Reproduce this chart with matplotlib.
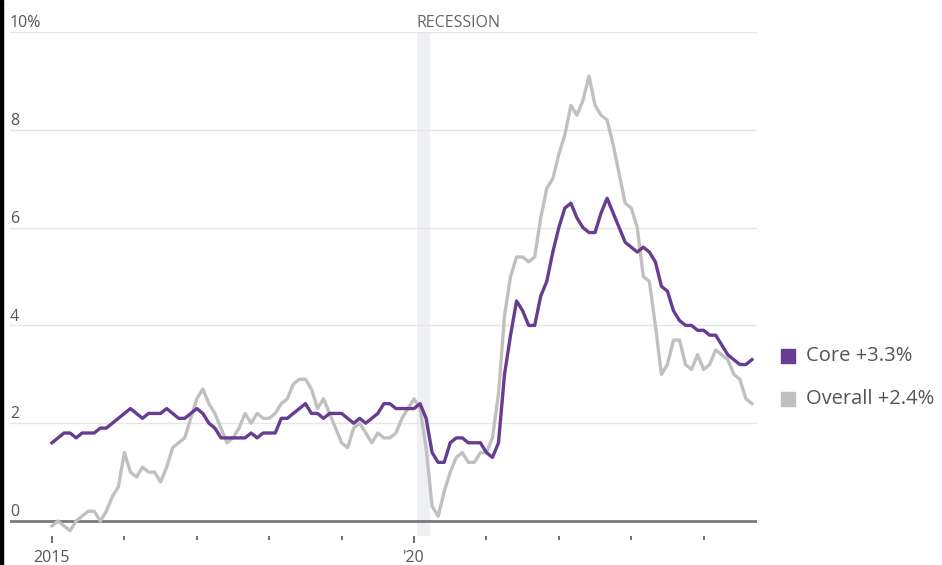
import matplotlib
matplotlib.use("Agg")
import matplotlib.pyplot as plt
import numpy as np
from matplotlib.patches import Rectangle

plt.rcParams['font.family'] = ['Open Sans', 'DejaVu Sans']

start_year = 2015
overall = [
    -0.1, 0.0, -0.1, -0.2, 0.0, 0.1, 0.2, 0.2, 0.0, 0.2, 0.5, 0.7,
    1.4, 1.0, 0.9, 1.1, 1.0, 1.0, 0.8, 1.1, 1.5, 1.6, 1.7, 2.1,
    2.5, 2.7, 2.4, 2.2, 1.9, 1.6, 1.7, 1.9, 2.2, 2.0, 2.2, 2.1,
    2.1, 2.2, 2.4, 2.5, 2.8, 2.9, 2.9, 2.7, 2.3, 2.5, 2.2, 1.9,
    1.6, 1.5, 1.9, 2.0, 1.8, 1.6, 1.8, 1.7, 1.7, 1.8, 2.1, 2.3,
    2.5, 2.3, 1.5, 0.3, 0.1, 0.6, 1.0, 1.3, 1.4, 1.2, 1.2, 1.4,
    1.4, 1.7, 2.6, 4.2, 5.0, 5.4, 5.4, 5.3, 5.4, 6.2, 6.8, 7.0,
    7.5, 7.9, 8.5, 8.3, 8.6, 9.1, 8.5, 8.3, 8.2, 7.7, 7.1, 6.5,
    6.4, 6.0, 5.0, 4.9, 4.0, 3.0, 3.2, 3.7, 3.7, 3.2, 3.1, 3.4,
    3.1, 3.2, 3.5, 3.4, 3.3, 3.0, 2.9, 2.5, 2.4,
]
core = [
    1.6, 1.7, 1.8, 1.8, 1.7, 1.8, 1.8, 1.8, 1.9, 1.9, 2.0, 2.1,
    2.2, 2.3, 2.2, 2.1, 2.2, 2.2, 2.2, 2.3, 2.2, 2.1, 2.1, 2.2,
    2.3, 2.2, 2.0, 1.9, 1.7, 1.7, 1.7, 1.7, 1.7, 1.8, 1.7, 1.8,
    1.8, 1.8, 2.1, 2.1, 2.2, 2.3, 2.4, 2.2, 2.2, 2.1, 2.2, 2.2,
    2.2, 2.1, 2.0, 2.1, 2.0, 2.1, 2.2, 2.4, 2.4, 2.3, 2.3, 2.3,
    2.3, 2.4, 2.1, 1.4, 1.2, 1.2, 1.6, 1.7, 1.7, 1.6, 1.6, 1.6,
    1.4, 1.3, 1.6, 3.0, 3.8, 4.5, 4.3, 4.0, 4.0, 4.6, 4.9, 5.5,
    6.0, 6.4, 6.5, 6.2, 6.0, 5.9, 5.9, 6.3, 6.6, 6.3, 6.0, 5.7,
    5.6, 5.5, 5.6, 5.5, 5.3, 4.8, 4.7, 4.3, 4.1, 4.0, 4.0, 3.9,
    3.9, 3.8, 3.8, 3.6, 3.4, 3.3, 3.2, 3.2, 3.3,
]
year_ticks = list(range(2015, 2025))
year_labels = ['2015', '', '', '', '', "'20", '', '', '', '']
y_ticks = [0, 2, 4, 6, 8, 10]
y_labels = ['0', '2', '4', '6', '8', '10%']
recession = (2020.04, 2020.22)
legend_labels = ['Core +3.3%', 'Overall +2.4%']

core_color = '#663d91'
overall_color = '#c0c0c0'

W, H = 942, 565
fig = plt.figure(figsize=(W / 100, H / 100), dpi=100)
ax_l, ax_r, ax_t, ax_b = 10, 757, 32, 535.7
ax = fig.add_axes([ax_l / W, 1 - ax_b / H, (ax_r - ax_l) / W, (ax_b - ax_t) / H])

t = start_year + np.arange(len(core)) / 12.0
ymin = -0.3
ax.set_xlim(2014.42, 2024.737)
ax.set_ylim(ymin, 10)

for yv in y_ticks[1:]:
    ax.axhline(yv, color='#e6e6e6', lw=1.0, zorder=1)
ax.axhline(0, color='#7a7a7a', lw=2.0, zorder=2)

ax.fill_between(recession, ymin, 10, color='#eef0f4', lw=0, zorder=0.5)
ax.text(recession[0], 10.1, 'RECESSION', fontsize=11.5, color='#666666',
        ha='left', va='baseline')

ax.plot(t, overall, color=overall_color, lw=2.4, zorder=3, solid_joinstyle='round')
ax.plot(t, core, color=core_color, lw=2.4, zorder=4, solid_joinstyle='round')

for yv, lab in zip(y_ticks, y_labels):
    ax.text(2014.42, yv + 0.1, lab, fontsize=11.5, color='#555555',
            ha='left', va='baseline')

for s in ax.spines.values():
    s.set_visible(False)
ax.set_yticks([])
ax.set_xticks(year_ticks)
ax.set_xticklabels(year_labels, fontsize=11.5, color='#555555')
ax.tick_params(axis='x', length=5, width=1.2, color='#555555', pad=5)
for tk, lab in zip(ax.xaxis.get_major_ticks(), year_labels):
    if lab == '':
        tk.tick1line.set_markersize(3)

# legend
lx = 781 / W
for i, (lab, c) in enumerate(zip(legend_labels, [core_color, overall_color])):
    yc = 1 - (356 + i * 43) / H
    fig.patches.append(Rectangle((lx, yc - 7 / H), 14 / W, 14 / H,
                                 transform=fig.transFigure, color=c))
    fig.text(806 / W, yc, lab, fontsize=14.5, color='#555555',
             ha='left', va='center')

fig.patches.append(Rectangle((0, 0), 3 / W, 1, transform=fig.transFigure,
                             color='black'))

fig.savefig('out.png', dpi=100)
